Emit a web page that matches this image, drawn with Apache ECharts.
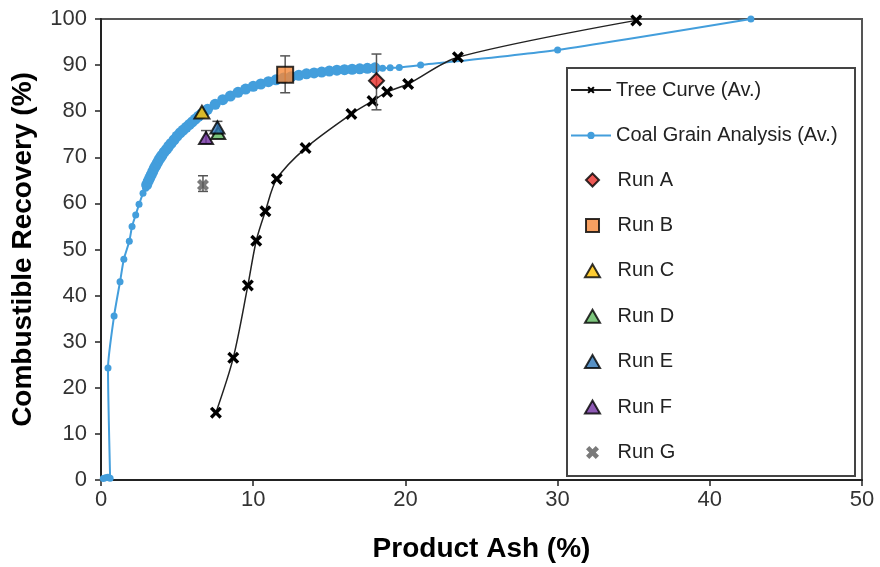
<!DOCTYPE html>
<html>
<head>
<meta charset="utf-8">
<script src="https://cdn.jsdelivr.net/npm/echarts@6/dist/echarts.min.js"></script>
<style>
html,body{margin:0;padding:0;background:#fff;}
#chart{width:880px;height:567px;}
</style>
</head>
<body>
<div id="chart"></div>
<script>
// Tree Curve (Av.)
var treeX = [7.55, 8.69, 9.65, 10.2, 10.8, 11.55, 13.44, 16.45, 17.84, 18.8, 20.18, 23.45, 35.17];
var treeY = [14.6, 26.5, 42.2, 51.9, 58.3, 65.3, 72.0, 79.4, 82.2, 84.2, 85.9, 91.7, 99.7];

// Coal Grain Analysis (Av.)
var coalX = [0.15, 0.3, 0.45, 0.6, 0.46, 0.86, 1.25, 1.5, 1.86, 2.04, 2.28, 2.5, 2.76, 2.93,
  3.0, 3.1, 3.2, 3.3, 3.4, 3.5, 3.6, 3.7, 3.8, 3.9, 4.0, 4.15, 4.3, 4.45, 4.6, 4.8, 5.0, 5.2, 5.4, 5.6,
  5.8, 6.0, 6.2, 6.4, 6.6, 6.8, 7.0, 7.5, 8.0, 8.5, 9.0, 9.5,
  10.0, 10.5, 11.0, 11.5, 12.0, 12.5, 13.0, 13.5, 14.0, 14.5, 15.0, 15.5, 16.0, 16.5, 17.0, 17.5,
  18.0, 18.5, 19.0, 19.6, 21.0, 30.0, 42.7];
var coalY = [0.3, 0.5, 0.6, 0.4, 24.3, 35.6, 43.0, 47.9, 51.8, 55.0, 57.5, 59.8, 62.2, 63.3,
  64.0, 64.8, 65.5, 66.2, 66.9, 67.6, 68.2, 68.8, 69.4, 69.9, 70.4, 71.1, 71.7, 72.4, 73.0, 73.8, 74.6, 75.3, 75.9, 76.5,
  77.1, 77.7, 78.3, 78.9, 79.4, 79.9, 80.4, 81.5, 82.5, 83.3, 84.1, 84.8,
  85.4, 85.9, 86.4, 86.8, 87.2, 87.5, 87.8, 88.1, 88.3, 88.5, 88.7, 88.9, 89.0, 89.1, 89.2, 89.3,
  89.4, 89.3, 89.4, 89.5, 90.0, 93.3, 100.0];

// Runs: x, y, error low / high (null = no visible bar)
var runNames = ["Run A", "Run B", "Run C", "Run D", "Run E", "Run F", "Run G"];
var runX = [18.1, 12.1, 6.63, 7.7, 7.65, 6.9, 6.7];
var runY = [86.6, 87.9, 79.8, 75.3, 76.5, 74.2, 64.0];
var runLow = [80.3, 84.0, null, null, 75.0, 73.0, 62.6];
var runHigh = [92.4, 92.0, null, null, 77.8, 75.8, 66.0];

// tick labels
var xTicks = [0, 10, 20, 30, 40, 50];
var yTicks = [0, 10, 20, 30, 40, 50, 60, 70, 80, 90, 100];

var FONT = 'Liberation Sans, Arial, sans-serif';
var xPath = 'path://M2,0 L5,3 L8,0 L10,2 L7,5 L10,8 L8,10 L5,7 L2,10 L0,8 L3,5 L0,2 Z';
var xPathBold = 'path://M2.5,0 L5,2.5 L7.5,0 L10,2.5 L7.5,5 L10,7.5 L7.5,10 L5,7.5 L2.5,10 L0,7.5 L2.5,5 L0,2.5 Z';
var runColors = ['#E8302A', '#F5883A', '#FFC000', '#5DB85C', '#2E75B6', '#7030A0', '#595959'];
var runSymbols = ['path://M5,0 L10,5 L5,10 L0,5 Z', 'path://M0,0 L10,0 L10,10 L0,10 Z',
  'path://M5,0 L10,8.66 L0,8.66 Z', 'path://M5,0 L10,8.66 L0,8.66 Z',
  'path://M5,0 L10,8.66 L0,8.66 Z', 'path://M5,0 L10,8.66 L0,8.66 Z', xPathBold];
var runSizes = [15, 16, 15, 14, 14, 14, 12];

function zip(a, b) { return a.map(function (v, i) { return [v, b[i]]; }); }

var series = [];
series.push({
  name: 'Coal Grain Analysis (Av.)', type: 'line', data: zip(coalX, coalY),
  smooth: 0.2, symbol: 'circle',
  symbolSize: function (v) { return (v[0] >= 2.95 && v[0] <= 18.2) ? 11 : 7; },
  lineStyle: { color: '#439EDC', width: 2 },
  itemStyle: { color: '#439EDC' }, z: 2
});
series.push({
  name: 'Tree Curve (Av.)', type: 'line', data: zip(treeX, treeY),
  smooth: 0.3, symbol: xPath, symbolSize: 12, symbolKeepAspect: true,
  lineStyle: { color: '#222', width: 1.5 },
  itemStyle: { color: '#000' }, z: 3
});
var errData = [];
runNames.forEach(function (n, i) {
  if (runLow[i] !== null) errData.push([runX[i], runLow[i], runHigh[i]]);
});
series.push({
  type: 'custom', silent: true, z: 4,
  data: errData,
  renderItem: function (params, api) {
    var x = api.value(0);
    var lo = api.coord([x, api.value(1)]);
    var hi = api.coord([x, api.value(2)]);
    var w = 5;
    var st = { stroke: '#555', lineWidth: 1.5 };
    return {
      type: 'group', children: [
        { type: 'line', shape: { x1: lo[0], y1: lo[1], x2: hi[0], y2: hi[1] }, style: st },
        { type: 'line', shape: { x1: lo[0] - w, y1: lo[1], x2: lo[0] + w, y2: lo[1] }, style: st },
        { type: 'line', shape: { x1: hi[0] - w, y1: hi[1], x2: hi[0] + w, y2: hi[1] }, style: st }
      ]
    };
  }
});
runNames.forEach(function (n, i) {
  series.push({
    name: n, type: 'scatter', data: [[runX[i], runY[i]]],
    symbol: runSymbols[i], symbolSize: runSizes[i], symbolKeepAspect: true, z: 5,
    itemStyle: { color: runColors[i], borderColor: i === 6 ? '#595959' : '#000', borderWidth: i === 6 ? 0 : 2 }
  });
});

var legendText = { fontSize: 20, lineHeight: 20, color: '#222', fontFamily: FONT };

var chart = echarts.init(document.getElementById('chart'), null, { renderer: 'canvas' });
chart.setOption({
  animation: false,
  backgroundColor: '#fff',
  textStyle: { fontFamily: FONT },
  grid: { left: 101, right: 18, top: 19, bottom: 87, show: true, borderColor: '#555', borderWidth: 2,
          outerBoundsMode: 'none', containLabel: false },
  graphic: [{
    type: 'rect', left: 566, top: 67, z: 90,
    shape: { width: 288, height: 408 },
    style: { fill: '#fff', stroke: '#444', lineWidth: 2 }
  }],
  legend: [{
    orient: 'vertical', left: 570, top: 80, z: 100,
    data: ['Tree Curve (Av.)', 'Coal Grain Analysis (Av.)'],
    itemWidth: 40, itemHeight: 9, itemGap: 25.4, padding: 0,
    textStyle: legendText
  }, {
    orient: 'vertical', left: 584, top: 170, z: 100,
    data: runNames,
    itemWidth: 40, itemHeight: 13, itemGap: 25.4, padding: 0,
    symbolKeepAspect: true,
    textStyle: legendText
  }],
  xAxis: {
    type: 'value', min: 0, max: 50, interval: 10,
    name: 'Product Ash (%)', nameLocation: 'middle', nameGap: 55,
    nameTextStyle: { fontSize: 28, fontWeight: 'bold', color: '#000' },
    axisLine: { show: true, lineStyle: { color: '#222', width: 2 } },
    axisTick: { show: true, length: 6, lineStyle: { color: '#222', width: 1.5 } },
    axisLabel: { fontSize: 22, color: '#333', margin: 9 },
    splitLine: { show: false }
  },
  yAxis: {
    type: 'value', min: 0, max: 100, interval: 10,
    name: 'Combustible Recovery (%)', nameLocation: 'middle', nameGap: 64,
    nameTextStyle: { fontSize: 28, fontWeight: 'bold', color: '#000' },
    axisLine: { show: true, lineStyle: { color: '#222', width: 2 } },
    axisTick: { show: true, length: 6, lineStyle: { color: '#222', width: 1.5 } },
    axisLabel: { fontSize: 22, color: '#333', margin: 14 },
    splitLine: { show: false }
  },
  series: series
});
</script>
</body>
</html>
